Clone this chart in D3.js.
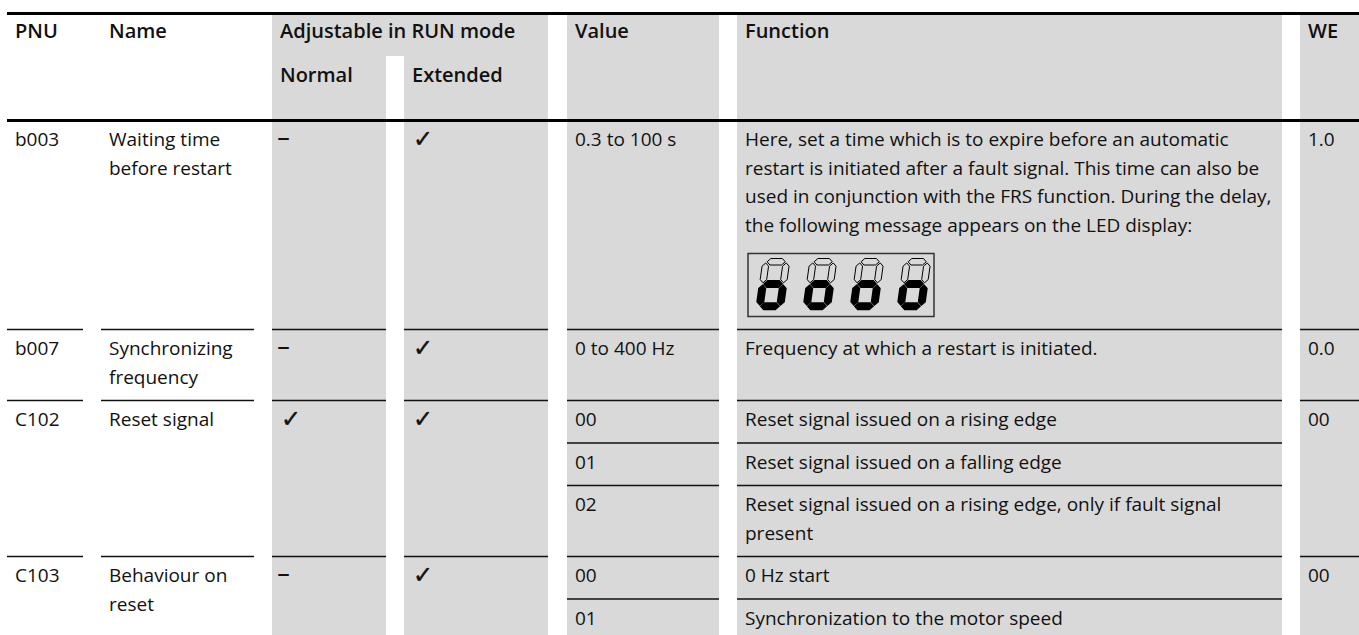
<!DOCTYPE html>
<html><head><meta charset="utf-8">
<script src="https://cdn.jsdelivr.net/npm/d3@7"></script>
<style>
body{margin:0;background:#fff}
svg{display:block}
text{font-family:"Open Sans","Noto Sans",sans-serif;font-size:19px;fill:#111}
text.h{font-weight:600;font-size:20px}
text.chk{font-family:"DejaVu Sans",sans-serif;font-size:24px;stroke:#111;stroke-width:0.4px}
text.dash{font-family:"DejaVu Sans",sans-serif;font-size:26px}
</style></head>
<body><svg id="c" width="1359" height="635"></svg>
<script>
// ---------- data ----------
const columns   = ["PNU","Name","Normal","Extended","Value","Function","WE"];
const headerTop = ["PNU","Name","Adjustable in RUN mode","","Value","Function","WE"];
const headerSub = ["","","Normal","Extended","","",""];
const pnu       = ["b003","b007","C102","C103"];
const names     = [["Waiting time","before restart"],["Synchronizing","frequency"],["Reset signal"],["Behaviour on","reset"]];
const normalRun = ["–","–","✓","–"];
const extendedRun = ["✓","✓","✓","✓"];
const values    = [["0.3 to 100 s"],["0 to 400 Hz"],["00","01","02"],["00","01"]];
const functions = [
  [["Here, set a time which is to expire before an automatic","restart is initiated after a fault signal. This time can also be","used in conjunction with the FRS function. During the delay,","the following message appears on the LED display:"]],
  [["Frequency at which a restart is initiated."]],
  [["Reset signal issued on a rising edge"],["Reset signal issued on a falling edge"],["Reset signal issued on a rising edge, only if fault signal","present"]],
  [["0 Hz start"],["Synchronization to the motor speed"]]
];
const we        = ["1.0","0.0","00","00"];
const ledText   = "oooo";   // LED display message (row b003)

// ---------- layout ----------
const W = 1359, H = 635;
const colX0 = d3.scaleOrdinal().domain(columns).range([7,101,272,404,567,737,1300]);
const colX1 = d3.scaleOrdinal().domain(columns).range([83,254,386,548,719,1282,1359]);
const colGray = d3.scaleOrdinal().domain(columns).range([false,false,true,true,true,true,true]);
const PADX = 8, LH = 28.5, PADY = 14, BASE = 25.5;
const TOP = 13.5, HEAD_BOTTOM = 120.5, SPLIT_Y = 56;
const LED_EXTRA = 81;
const GRAY = "#d9d9d9";

const rows = [];
let y = HEAD_BOTTOM;
pnu.forEach((p, i) => {
  const subs = values[i].map((v, j) => {
    let lines = Math.max(1, functions[i][j].length);
    if (values[i].length === 1) lines = Math.max(lines, names[i].length);
    const h = PADY + lines * LH + (i === 0 ? LED_EXTRA : 0);
    const s = {y0: y, y1: y + h, v, fn: functions[i][j]};
    y += h;
    return s;
  });
  rows.push({i, y0: subs[0].y0, y1: subs[subs.length-1].y1, subs});
});

const svg = d3.select("#c");
svg.selectAll("rect.bg").data(columns.filter(c => colGray(c))).join("rect")
  .attr("x", c => colX0(c)).attr("width", c => colX1(c) - colX0(c))
  .attr("y", TOP).attr("height", H - TOP).attr("fill", GRAY);
svg.append("rect").attr("x", colX1("Normal")).attr("width", colX0("Extended") - colX1("Normal"))
  .attr("y", TOP).attr("height", SPLIT_Y - TOP).attr("fill", GRAY);

[TOP, HEAD_BOTTOM].forEach(yy => svg.append("line")
  .attr("x1", 7).attr("x2", W).attr("y1", yy).attr("y2", yy)
  .attr("stroke", "#000").attr("stroke-width", 3));

const hdr = svg.append("g");
columns.forEach((c, k) => {
  if (headerTop[k]) hdr.append("text").attr("class","h").attr("x", colX0(c) + PADX).attr("y", 38).text(headerTop[k]);
  if (headerSub[k]) hdr.append("text").attr("class","h").attr("x", colX0(c) + PADX).attr("y", 82).text(headerSub[k]);
});

function hline(c, yy) {
  svg.append("line").attr("x1", colX0(c)).attr("x2", colX1(c)).attr("y1", yy).attr("y2", yy)
    .attr("stroke", "#111").attr("stroke-width", 1.4);
}
rows.forEach((r, i) => {
  if (i > 0) columns.forEach(c => hline(c, r.y0));
  r.subs.forEach((s, j) => { if (j > 0) ["Value","Function"].forEach(c => hline(c, s.y0)); });
});

function lines(c, yTop, arr) {
  arr.forEach((t, k) => svg.append("text")
    .attr("x", colX0(c) + PADX).attr("y", yTop + BASE + k * LH).text(t));
}
function mark(c, yTop, s) {
  const isDash = s === "–";
  svg.append("text").attr("class", isDash ? "dash" : "chk")
    .attr("x", colX0(c) + PADX + (isDash ? -3 : 1)).attr("y", yTop + BASE + (isDash ? 0 : 1)).text(s);
}
rows.forEach((r, i) => {
  lines("PNU", r.y0, [pnu[i]]);
  lines("Name", r.y0, names[i]);
  mark("Normal", r.y0, normalRun[i]);
  mark("Extended", r.y0, extendedRun[i]);
  lines("WE", r.y0, [we[i]]);
  r.subs.forEach(s => { lines("Value", s.y0, [s.v]); lines("Function", s.y0, s.fn); });
});

// LED display
const box = {x: colX0("Function") + 11, y: rows[0].y0 + 133, w: 186, h: 63};
svg.append("rect").attr("x", box.x).attr("y", box.y).attr("width", box.w).attr("height", box.h)
  .attr("fill", "none").attr("stroke", "#333").attr("stroke-width", 1.5);
const DW = 27, DH = 51, T = 6.5, SK = 0.14, G = 1.2;
const segOn = {o: ["c","d","e","g"]};
function segPoly(name) {
  const L = T/2, R = DW - T/2, tp = T/2, md = DH/2, bt = DH - T/2, h = T/2;
  const hz = (x1, x2, yy) => [[x1+G,yy],[x1+G+h,yy-h],[x2-G-h,yy-h],[x2-G,yy],[x2-G-h,yy+h],[x1+G+h,yy+h]];
  const vt = (xx, y1, y2) => [[xx,y1+G],[xx+h,y1+G+h],[xx+h,y2-G-h],[xx,y2-G],[xx-h,y2-G-h],[xx-h,y1+G+h]];
  return {a: hz(L,R,tp), g: hz(L,R,md), d: hz(L,R,bt), f: vt(L,tp,md), b: vt(R,tp,md), e: vt(L,md,bt), c: vt(R,md,bt)}[name];
}
const segNames = ["a","b","c","d","e","f","g"];
ledText.split("").forEach((ch, k) => {
  const ox = box.x + 8 + k * 47, oy = box.y + 5;
  const gd = svg.append("g");
  segNames.forEach(sn => {
    const on = (segOn[ch] || []).includes(sn);
    const pts = segPoly(sn).map(([px, py]) => [ox + px + (DH - py) * SK, oy + py]);
    gd.append("path").attr("d", d3.line()(pts) + "Z")
      .attr("fill", on ? "#000" : "none").attr("stroke", "#000").attr("stroke-width", on ? 1.5 : 1);
  });
});
</script></body></html>
